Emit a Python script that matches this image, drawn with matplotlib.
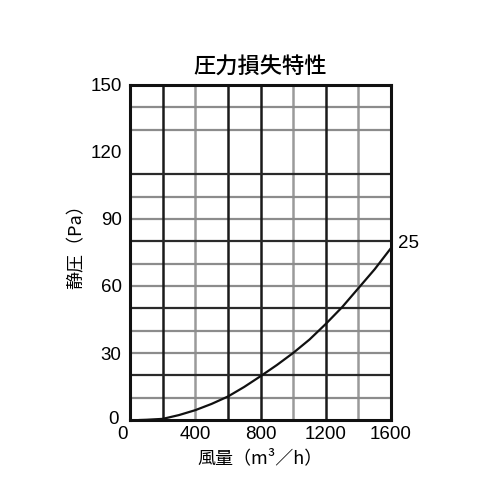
import numpy as np
import matplotlib.pyplot as plt
from matplotlib.transforms import ScaledTranslation

plt.rcParams['font.family'] = ['Liberation Sans', 'Noto Sans CJK JP', 'DejaVu Sans']

# curve (風量 m3/h -> 静圧 Pa)
flow = [60, 100, 200, 300, 400, 500, 600, 700, 800, 900, 1000, 1100, 1200, 1300, 1400, 1500, 1600]
pressure = [0, 0.1, 0.5, 2.2, 4.4, 7.2, 10.5, 14.8, 19.6, 24.6, 30, 36, 43, 50.5, 59, 67.5, 77]
curve_label = "25"

x_ticks = [0, 400, 800, 1200, 1600]
y_ticks = [0, 30, 60, 90, 120, 150]
vgrid_dark = [200, 600, 800, 1200]
vgrid_light = [400, 1000, 1400]
hgrid_dark = [20, 50, 80, 110]
hgrid_light = [10, 30, 40, 60, 70, 90, 100, 130, 140]

title = "圧力損失特性"
xlabel = "風量（m³／h）"
ylabel = "静圧（Pa）"

fig = plt.figure(figsize=(5, 5), dpi=100)
ax = fig.add_axes([0.26, 0.16, 0.522, 0.67])

for v in vgrid_light:
    ax.axvline(v, color='#9a9a9a', lw=1.8, zorder=1)
for v in vgrid_dark:
    ax.axvline(v, color='#1a1a1a', lw=1.8, zorder=2)
for h in hgrid_light:
    ax.axhline(h, color='#8c8c8c', lw=1.6, zorder=1)
for h in hgrid_dark:
    ax.axhline(h, color='#2a2a2a', lw=1.6, zorder=2)

ax.plot(flow, pressure, color='#111111', lw=1.6, zorder=3)
ax.text(flow[-1] + 40, pressure[-1] + 2, curve_label, fontsize=13.5, ha='left', va='center')

ax.set_xlim(0, 1600)
ax.set_ylim(0, 150)
ax.set_xticks(x_ticks)
ax.set_yticks(y_ticks)
ax.tick_params(length=0, labelsize=13.5)
ax.tick_params(axis='x', pad=4)
ax.tick_params(axis='y', pad=6)
for s in ax.spines.values():
    s.set_linewidth(2.2)
    s.set_color('#111111')
    s.set_zorder(4)

# the two zero labels sit a bit off in the original
fig.canvas.draw()
ax.get_xticklabels()[0].set_transform(ax.get_xticklabels()[0].get_transform()
                                      + ScaledTranslation(-7 / 100, 0, fig.dpi_scale_trans))
ax.get_yticklabels()[0].set_transform(ax.get_yticklabels()[0].get_transform()
                                      + ScaledTranslation(-3 / 100, 3 / 100, fig.dpi_scale_trans))

ax.set_title(title, fontsize=16, family=['Noto Sans CJK JP'], fontweight=500, pad=8)
ax.set_xlabel(xlabel, fontsize=13, family=['Noto Sans CJK JP', 'DejaVu Sans'], labelpad=5)
ax.set_ylabel(ylabel, fontsize=13, family=['Noto Sans CJK JP', 'DejaVu Sans'])
ax.yaxis.set_label_coords(-0.172, 0.53)

fig.savefig('out.png', dpi=100)
